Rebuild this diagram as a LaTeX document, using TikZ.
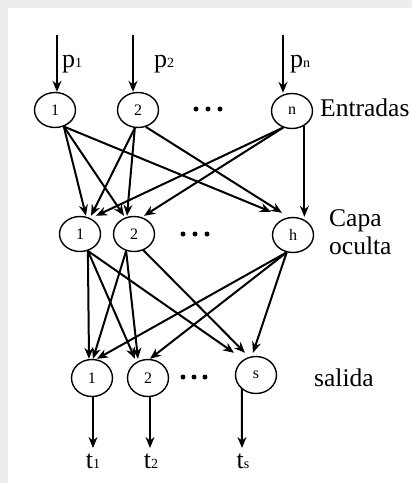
\documentclass[tikz,border=0pt]{standalone}
\usepackage{fontspec}
\setmainfont{Liberation Serif}
\usetikzlibrary{shapes.geometric,arrows.meta}
\newcommand{\subdig}[1]{{\fontsize{14}{14}\selectfont #1}}
\begin{document}
\begin{tikzpicture}[x=1pt,y=-1pt,
 neuron/.style={ellipse,draw,line width=1.4pt,minimum width=41pt,minimum height=35pt,inner sep=0pt,font=\fontsize{16}{16}\selectfont},
 arr/.style={line width=2pt,-{Stealth[length=11pt,width=9pt]}},
 lbl/.style={font=\fontsize{25.5}{28}\selectfont,anchor=west,inner sep=0pt,align=left},
 io/.style={font=\fontsize{26}{26}\selectfont,inner sep=0pt}]
\fill[black!7] (0,0) rectangle (412,483);
\fill[white] (8,8) rectangle (412,483);
\useasboundingbox (0,0) rectangle (412,483);

% nodes
\node[neuron] (i1) at (55,110) {1};
\node[neuron] (i2) at (138,110) {2};
\node[neuron] (in) at (292,111) {n};
\node[neuron] (h1) at (80,234) {1};
\node[neuron] (h2) at (134,234) {2};
\node[neuron] (hh) at (293,235) {h};
\node[neuron,minimum height=37pt,minimum width=41pt] (o1) at (92,378) {1};
\node[neuron,minimum height=37pt,minimum width=41pt] (o2) at (148,378) {2};
\node[neuron,minimum height=37pt,minimum width=41pt] (os) at (256,375) {s};

% dots
\foreach \x in {196,208,220} \fill (\x,109) circle (2.5);
\foreach \x in {183,195,207} \fill (\x,234) circle (2.5);
\foreach \x in {183,194,205} \fill (\x,377) circle (2.5);

% inputs
\coordinate (pa1) at (57,35);
\coordinate (pa2) at (133,35);
\coordinate (pan) at (283,35);
\draw[arr] (pa1) -- (pa1 |- i1.north);
\draw[arr] (pa2) -- (pa2 |- i2.north);
\draw[arr] (pan) -- (pan |- in.north);
\node[io,anchor=west] (lp1) at (62,64) {p\subdig{1}};
\node[io,anchor=west] (lp2) at (154,64) {p\subdig{2}};
\node[io,anchor=west] (lpn) at (290,64) {p\subdig{n}};

% input -> hidden
\draw[arr] (i1.-62) -- ([xshift=6pt]h1.north);
\draw[arr] (i1.-62) -- ([xshift=-10pt]h2.north);
\draw[arr] (i1.-62) -- ([xshift=-22pt,yshift=5pt]hh.north);
\draw[arr] (i2.-100) -- ([xshift=11pt]h1.north);
\draw[arr] (i2.-100) -- ([xshift=-7pt]h2.north);
\draw[arr] (i2.-65) -- ([xshift=-11pt,yshift=4pt]hh.north);
\draw[arr] (in.-118) -- ([xshift=16pt]h1.north);
\draw[arr] (in.-118) -- ([xshift=10pt]h2.north);
\draw[arr] (in.-50) -- (in.-50 |- hh.north);

% hidden -> output
\draw[arr] (h1.-65) -- ([xshift=-3pt]o1.north);
\draw[arr] (h1.-65) -- ([xshift=-13pt]o2.north);
\draw[arr] (h1.-65) -- ([xshift=-22pt,yshift=3pt]os.north);
\draw[arr] (h2.-115) -- ([xshift=1pt]o1.north);
\draw[arr] (h2.-115) -- ([xshift=-10pt]o2.north);
\draw[arr] (h2.-60) -- ([xshift=-11pt,yshift=3pt]os.north);
\draw[arr] (hh.-110) -- ([xshift=5pt]o1.north);
\draw[arr] (hh.-110) -- ([xshift=2pt]o2.north);
\draw[arr] (hh.-110) -- ([xshift=-3pt,yshift=3pt]os.north);

% outputs
\coordinate (tb1) at (93,448);
\coordinate (tb2) at (150,448);
\coordinate (tbs) at (242,448);
\draw[arr] (o1.south -| tb1) -- (tb1);
\draw[arr] (o2.south -| tb2) -- (tb2);
\draw[arr] (os.-135) -- (tbs);
\node[io] (t1) at (93,461) {t\subdig{1}};
\node[io] (t2) at (151,461) {t\subdig{2}};
\node[io] (ts) at (243,461) {t\subdig{s}};

% layer labels
\node[lbl] (ent) at (320,108) {Entradas};
\node[lbl] (cap) at (329,232) {Capa\\oculta};
\node[lbl] (sal) at (314,378) {salida};
\end{tikzpicture}
\end{document}
